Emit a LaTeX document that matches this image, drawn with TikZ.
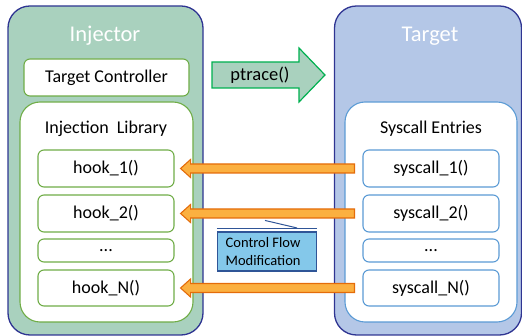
\documentclass[tikz,border=0pt]{standalone}
\usepackage{fontspec}
\setmainfont{Carlito}
\usetikzlibrary{calc}
\definecolor{injfill}{HTML}{A9D1BE}
\definecolor{navy}{HTML}{2F3592}
\definecolor{tgtfill}{HTML}{B4C7E7}
\definecolor{gborder}{HTML}{70AD47}
\definecolor{bborder}{HTML}{5B9BD5}
\definecolor{ptgreen}{HTML}{00B050}
\definecolor{orfill}{HTML}{FBB040}
\definecolor{orborder}{HTML}{E46C0A}
\definecolor{cffill}{HTML}{84C8EA}
\definecolor{cfborder}{HTML}{2F5597}
\tikzset{
  outerbox/.style={draw=navy, line width=1.3pt, rounded corners=22pt, inner sep=0pt},
  gbox/.style={draw=gborder, fill=white, line width=1.1pt, rounded corners=6pt, inner sep=0pt, font=\fontsize{18}{21}\selectfont},
  bbox/.style={draw=bborder, fill=white, line width=1.1pt, rounded corners=6pt, inner sep=0pt, font=\fontsize{18}{21}\selectfont},
  title/.style={text=white, font=\fontsize{22.5}{26}\selectfont},
  label/.style={font=\fontsize{18}{21}\selectfont},
  orarrow/.style={draw=orborder, fill=orfill, line width=1.1pt, line join=miter},
  ptarrow/.style={draw=ptgreen, fill=injfill, line width=1.2pt, line join=miter},
}
\begin{document}
\begin{tikzpicture}[x=1pt,y=-1pt]
\useasboundingbox (0,0) rectangle (522,336);
% outer boxes
\node[outerbox, fill=injfill, minimum width=195pt, minimum height=329pt] (inj) at (105.5,170.5) {};
\node[outerbox, fill=tgtfill, minimum width=187pt, minimum height=329pt] (tgt) at (428,170.5) {};
\node[title] (injt) at (105,36) {Injector};
\node[title] (tgtt) at (430,36) {Target};
% injector inner
\node[gbox, minimum width=165pt, minimum height=37pt] (tc) at (106.5,77.5) {Target Controller};
\node[gbox, rounded corners=20pt, minimum width=173pt, minimum height=220pt] (il) at (106.5,212) {};
\node[label] (ilt) at (106,129) {Injection\ \ Library};
\node[gbox, minimum width=136pt, minimum height=37pt] (h1) at (106,168.5) {hook\_1()};
\node[gbox, minimum width=136pt, minimum height=37pt] (h2) at (106,213.5) {hook\_2()};
\node[gbox, minimum width=136pt, minimum height=23pt] (hd) at (106,250.5) {...};
\node[gbox, minimum width=136pt, minimum height=36pt] (hn) at (106,288) {hook\_N()};
% target inner
\node[bbox, rounded corners=20pt, minimum width=172pt, minimum height=220pt] (se) at (431,212) {};
\node[label] (set) at (431,129) {Syscall Entries};
\node[bbox, minimum width=136pt, minimum height=37pt] (s1) at (431,168.5) {syscall\_1()};
\node[bbox, minimum width=136pt, minimum height=37pt] (s2) at (431,213.5) {syscall\_2()};
\node[bbox, minimum width=136pt, minimum height=23pt] (sd) at (431,250.5) {...};
\node[bbox, minimum width=136pt, minimum height=36pt] (sn) at (431,288) {syscall\_N()};
% ptrace arrow
\coordinate (pa) at (212,75);
\draw[ptarrow] ($(pa)+(0,-13)$) -- ($(pa)+(87,-13)$) -- ($(pa)+(87,-27)$) -- ($(pa)+(113,0)$)
  -- ($(pa)+(87,27)$) -- ($(pa)+(87,13)$) -- ($(pa)+(0,13)$) -- cycle;
\node[label, font=\fontsize{18.5}{22}\selectfont] (pt) at (260,75) {ptrace()};
% orange arrows
\foreach \s/\h in {s1/h1,s2/h2,sn/hn}{
  \draw[orarrow] ($(\s.west)+(-8,-4.5)$) -- ($(\h.east)+(16,-4.5)$) -- ($(\h.east)+(16,-9)$)
    -- ($(\h.east)+(6,0)$) -- ($(\h.east)+(16,9)$) -- ($(\h.east)+(16,4.5)$)
    -- ($(\s.west)+(-8,4.5)$) -- cycle;
}
% control flow modification callout
\node[draw=cfborder, fill=cffill, line width=1.1pt, minimum width=99pt, minimum height=39pt,
  inner sep=0pt] (cf) at (267,251.5) {};
\node[anchor=west, align=left, inner sep=0pt, font=\fontsize{14.5}{18}\selectfont] (cft) at (225.5,251.5) {Control Flow\\Modification};
\coordinate (cfa) at ($(cf.north west)+(0,-3.5)$);
\coordinate (cfb) at ($(cf.north east)+(0,-3.5)$);
\draw[cfborder, line width=0.8pt] (cfa) -- (cfb);
\coordinate (cfc) at ($(cf.north)+(30,-3.5)$);
\coordinate (cfd) at ($(cf.north)+(-2,-11)$);
\draw[cfborder, line width=1pt] (cfd) -- (cfc);
\end{tikzpicture}
\end{document}
